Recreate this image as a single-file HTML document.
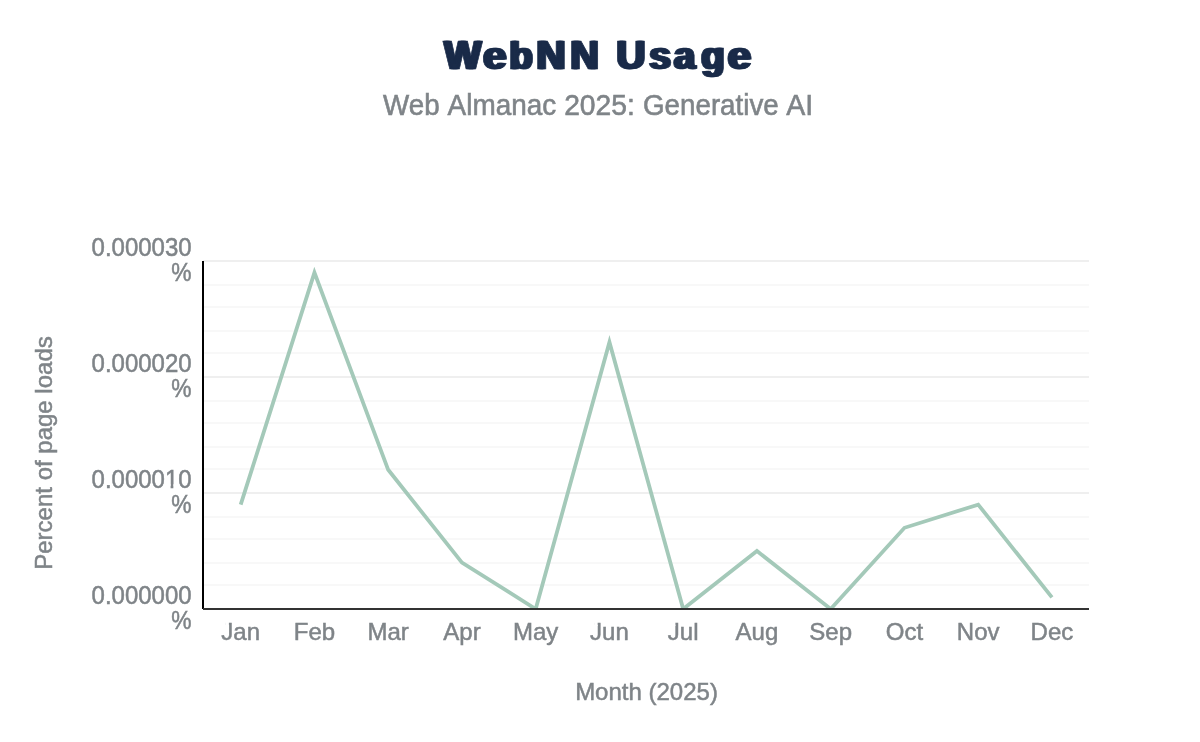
<!DOCTYPE html>
<html><head><meta charset="utf-8"><title>WebNN Usage</title>
<style>
html,body{margin:0;padding:0;background:#fff;}
body{width:1200px;height:742px;overflow:hidden;font-family:"Liberation Sans",sans-serif;}
svg{display:block;will-change:transform;}
svg text{font-family:"Liberation Sans",sans-serif;}
</style></head><body>
<svg width="1200" height="742" viewBox="0 0 1200 742">
<rect width="1200" height="742" fill="#ffffff"/>
<defs><clipPath id="plot"><rect x="203.0" y="261.0" width="886.0" height="348.0"/></clipPath></defs>
<!-- title -->
<g id="title" font-size="40" font-weight="bold" fill="#1a2b49" stroke="#1a2b49" stroke-width="0.70" stroke-linejoin="round" style="text-shadow:1.45px 0 0 #1a2b49,-1.45px 0 0 #1a2b49"><text transform="translate(444.23,68.60) scale(0.9801,1.0000)">W</text>
<text transform="translate(483.30,68.60) scale(1.0411,0.9650)">e</text>
<text transform="translate(509.48,68.60) scale(0.9518,0.9550)">b</text>
<text transform="translate(536.49,68.60) scale(1.0038,1.0000)">N</text>
<text transform="translate(570.35,68.60) scale(0.9910,1.0000)">N</text>
<text transform="translate(616.38,68.60) scale(1.0061,1.0000)">U</text>
<text transform="translate(649.21,68.60) scale(0.9772,0.9650)">s</text>
<text transform="translate(674.00,68.60) scale(0.9563,0.9650)">a</text>
<text transform="translate(701.23,68.60) scale(0.9559,0.9650)">g</text>
<text transform="translate(727.80,68.60) scale(1.0496,0.9650)">e</text></g>
<g font-size="28" fill="#7f8488" stroke="#7f8488" stroke-width="0.57">
<text transform="translate(383.05,114.80) scale(0.9912,1.040)">Web</text>
<text transform="translate(447.58,114.80) scale(0.9973,1.040)">Almanac</text>
<text transform="translate(564.13,114.80) scale(1.0087,1.040)">2025:</text>
<text transform="translate(643.00,114.80) scale(0.9913,1.040)">Generative</text>
<text transform="translate(786.33,114.80) scale(1.0178,1.040)">AI</text>
</g>
<!-- gridlines -->
<g id="grid"><rect x="203" y="260" width="886" height="2" fill="#efefef"/>
<rect x="203" y="284" width="886" height="2" fill="#f8f8f8"/>
<rect x="203" y="306" width="886" height="2" fill="#f8f8f8"/>
<rect x="203" y="330" width="886" height="2" fill="#f8f8f8"/>
<rect x="203" y="352" width="886" height="2" fill="#f8f8f8"/>
<rect x="203" y="376" width="886" height="2" fill="#efefef"/>
<rect x="203" y="400" width="886" height="2" fill="#f8f8f8"/>
<rect x="203" y="422" width="886" height="2" fill="#f8f8f8"/>
<rect x="203" y="446" width="886" height="2" fill="#f8f8f8"/>
<rect x="203" y="468" width="886" height="2" fill="#f8f8f8"/>
<rect x="203" y="492" width="886" height="2" fill="#efefef"/>
<rect x="203" y="516" width="886" height="2" fill="#f8f8f8"/>
<rect x="203" y="538" width="886" height="2" fill="#f8f8f8"/>
<rect x="203" y="562" width="886" height="2" fill="#f8f8f8"/>
<rect x="203" y="584" width="886" height="2" fill="#f8f8f8"/></g>
<!-- series -->
<g clip-path="url(#plot)"><polyline points="240.70,504.60 314.45,272.60 388.20,469.80 461.95,562.60 535.70,609.00 609.45,342.20 683.20,609.00 756.95,551.00 830.70,609.00 904.45,527.80 978.20,504.60 1051.95,597.40" fill="none" stroke="#a4c9b9" stroke-width="3.8" stroke-linejoin="miter" stroke-linecap="butt"/></g>
<!-- axes -->
<rect x="202" y="261" width="2" height="348" fill="#000000"/>
<rect x="203" y="608" width="886" height="2" fill="#333333"/>
<!-- labels -->
<g font-size="24" fill="#7f8488" stroke="#7f8488" stroke-width="0.50">
<text transform="translate(191.60,256.30) scale(1.0000,1.045)" text-anchor="end">0.000030</text>
<text transform="translate(191.40,281.30) scale(0.9500,1.090)" text-anchor="end">%</text>
<text transform="translate(191.60,372.30) scale(1.0000,1.045)" text-anchor="end">0.000020</text>
<text transform="translate(191.40,397.30) scale(0.9500,1.090)" text-anchor="end">%</text>
<text transform="translate(191.60,488.30) scale(1.0000,1.045)" text-anchor="end">0.000010</text>
<text transform="translate(191.40,513.30) scale(0.9500,1.090)" text-anchor="end">%</text>
<text transform="translate(191.60,604.30) scale(1.0000,1.045)" text-anchor="end">0.000000</text>
<text transform="translate(191.40,629.30) scale(0.9500,1.090)" text-anchor="end">%</text>
<text transform="translate(240.70,640.10) scale(1.0000,1.000)" text-anchor="middle">Jan</text>
<text transform="translate(314.45,640.10) scale(1.0000,1.000)" text-anchor="middle">Feb</text>
<text transform="translate(388.20,640.10) scale(1.0000,1.000)" text-anchor="middle">Mar</text>
<text transform="translate(461.95,640.10) scale(1.0000,1.000)" text-anchor="middle">Apr</text>
<text transform="translate(535.70,640.10) scale(1.0000,1.000)" text-anchor="middle">May</text>
<text transform="translate(609.45,640.10) scale(1.0000,1.000)" text-anchor="middle">Jun</text>
<text transform="translate(683.20,640.10) scale(1.0000,1.000)" text-anchor="middle">Jul</text>
<text transform="translate(756.95,640.10) scale(1.0000,1.000)" text-anchor="middle">Aug</text>
<text transform="translate(830.70,640.10) scale(1.0000,1.000)" text-anchor="middle">Sep</text>
<text transform="translate(904.45,640.10) scale(1.0000,1.000)" text-anchor="middle">Oct</text>
<text transform="translate(978.20,640.10) scale(1.0000,1.000)" text-anchor="middle">Nov</text>
<text transform="translate(1051.95,640.10) scale(1.0000,1.000)" text-anchor="middle">Dec</text>
<text transform="translate(646.50,700.20) scale(1.0000,1.000)" text-anchor="middle">Month (2025)</text>
<text transform="translate(52.10,453.00) rotate(-90) scale(1.0000,1.000)" text-anchor="middle">Percent of page loads</text>
</g>
<rect x="225.35" y="621.8" width="3.55" height="4.15" fill="#ffffff"/>
<rect x="594.10" y="621.8" width="3.55" height="4.15" fill="#ffffff"/>
<rect x="671.86" y="621.8" width="3.55" height="4.15" fill="#ffffff"/>
<rect x="165.70" y="484.30" width="4.90" height="5.0" fill="#ffffff"/>
<rect x="173.35" y="484.30" width="4.90" height="5.0" fill="#ffffff"/>
</svg>
</body></html>
